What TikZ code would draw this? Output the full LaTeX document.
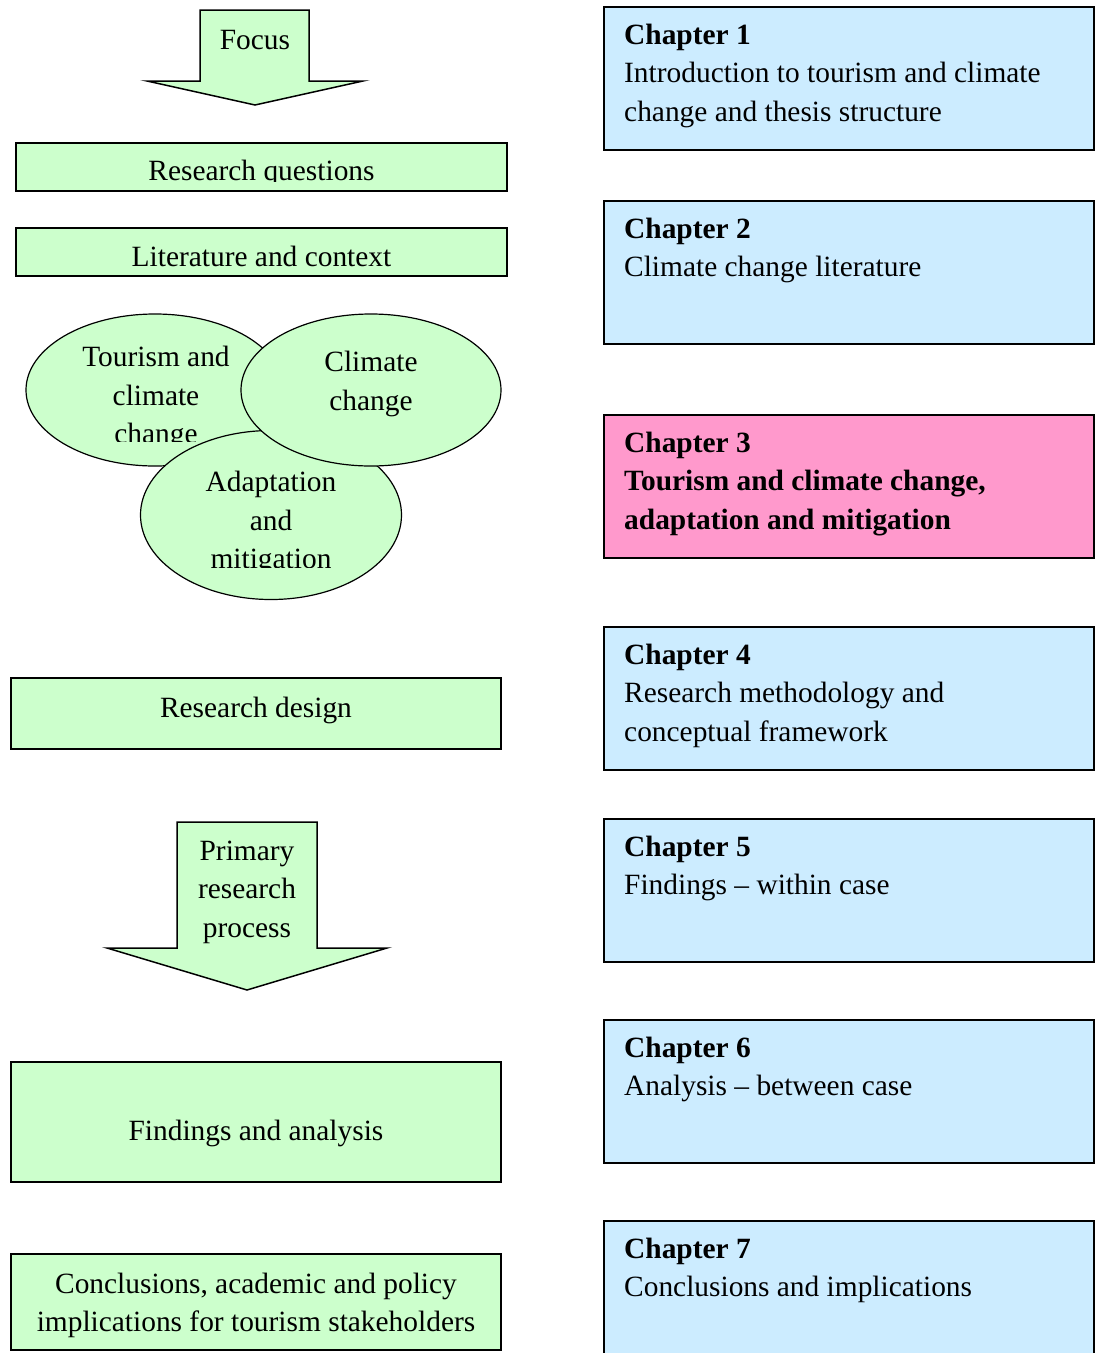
\documentclass[tikz,border=0pt]{standalone}
\usepackage{fontspec}
\setmainfont{Liberation Serif}
\usetikzlibrary{shapes.geometric,positioning}
\definecolor{boxgreen}{HTML}{CCFFCC}
\definecolor{chapblue}{HTML}{CCECFF}
\definecolor{chappink}{HTML}{FF99CC}
\newcommand{\diagfont}{\fontsize{29.4}{38.6}\selectfont}
\tikzset{
  greenbox/.style={draw, line width=1.5pt, fill=boxgreen, inner sep=0pt, minimum width=490pt},
  boxtext/.style={align=center, inner sep=0pt, font=\diagfont},
  chapbox/.style={draw, line width=1.5pt, fill=chapblue, anchor=north west, inner sep=0pt, minimum width=490pt, minimum height=143pt},
  chaptext/.style={anchor=base west, align=left, inner sep=0pt, font=\diagfont},
  topic/.style={ellipse, draw, line width=1.2pt, fill=boxgreen, inner sep=0pt},
  blockarrow/.style={draw, line width=1.5pt, fill=boxgreen, line join=miter},
}
\begin{document}
\begin{tikzpicture}[x=1pt,y=-1pt]
\clip (0,0) rectangle (1099,1353);

% left column
\draw[blockarrow] (200,10) -- (309,10) -- (309,81) -- (363,81) -- (255,105) -- (147,81) -- (200,81) -- cycle;
\node[boxtext] (focus) at (255,40) {Focus};

\node[greenbox, minimum width=491pt, minimum height=48pt] (rq) at (261.5,167) {};
\begin{scope}
  \clip (0,143) rectangle (1099,181);
  \node[boxtext] (rqtext) at (261.5,173) {Research questions};
\end{scope}
\node[greenbox, minimum width=491pt, minimum height=48pt] (lit) at (261.5,252) {};
\node[boxtext] (littext) at (261.5,256) {Literature and context};

\node[topic, minimum width=258pt, minimum height=152pt] (tcc) at (155,390) {};
\begin{scope}
  \clip (0,300) rectangle (1099,441);
  \node[boxtext] (tcctext) at (156,398) {Tourism and\\climate\\change};
\end{scope}
\node[topic, minimum width=261pt, minimum height=169pt] (adm) at (271,515) {};
\begin{scope}
  \clip (0,440) rectangle (1099,567);
  \node[boxtext] (admtext) at (271,523) {Adaptation\\and\\mitigation};
\end{scope}
\node[topic, minimum width=260pt, minimum height=152pt] (ccc) at (371,390) {};
\node[boxtext] (ccctext) at (371,384) {Climate\\change};

\node[greenbox, minimum height=71pt] (rd) at (256,713.5) {};
\node[boxtext] (rdtext) at (256,710.5) {Research design};

\draw[blockarrow] (177,822) -- (317,822) -- (317,948) -- (387,948) -- (247,990) -- (107,948) -- (177,948) -- cycle;
\node[boxtext] (prp) at (247,892) {Primary\\research\\process};

\node[greenbox, minimum height=120pt] (fa) at (256,1122) {};
\node[boxtext] (fatext) at (256,1133) {Findings and analysis};
\node[greenbox, minimum height=96pt] (con) at (256,1302) {};
\node[boxtext] (context) at (256,1305.5) {Conclusions, academic and policy\\implications for tourism stakeholders};

% right column
\node[chapbox] (ch1) at (603,6) {};
\node[chaptext] (ch1text) at (624,121.2) {\textbf{Chapter 1}\\Introduction to tourism and climate\\change and thesis structure};
\node[chapbox] (ch2) at (603,200) {};
\node[chaptext] (ch2text) at (624,276.6) {\textbf{Chapter 2}\\Climate change literature};
\node[chapbox, fill=chappink] (ch3) at (603,414) {};
\node[chaptext, font=\diagfont\bfseries] (ch3text) at (624,529.2) {Chapter 3\\Tourism and climate change,\\adaptation and mitigation};
\node[chapbox] (ch4) at (603,626) {};
\node[chaptext] (ch4text) at (624,741.2) {\textbf{Chapter 4}\\Research methodology and\\conceptual framework};
\node[chapbox] (ch5) at (603,818) {};
\node[chaptext] (ch5text) at (624,894.6) {\textbf{Chapter 5}\\Findings -- within case};
\node[chapbox] (ch6) at (603,1019) {};
\node[chaptext] (ch6text) at (624,1095.6) {\textbf{Chapter 6}\\Analysis -- between case};
\node[chapbox] (ch7) at (603,1220) {};
\node[chaptext] (ch7text) at (624,1296.6) {\textbf{Chapter 7}\\Conclusions and implications};
\end{tikzpicture}
\end{document}
